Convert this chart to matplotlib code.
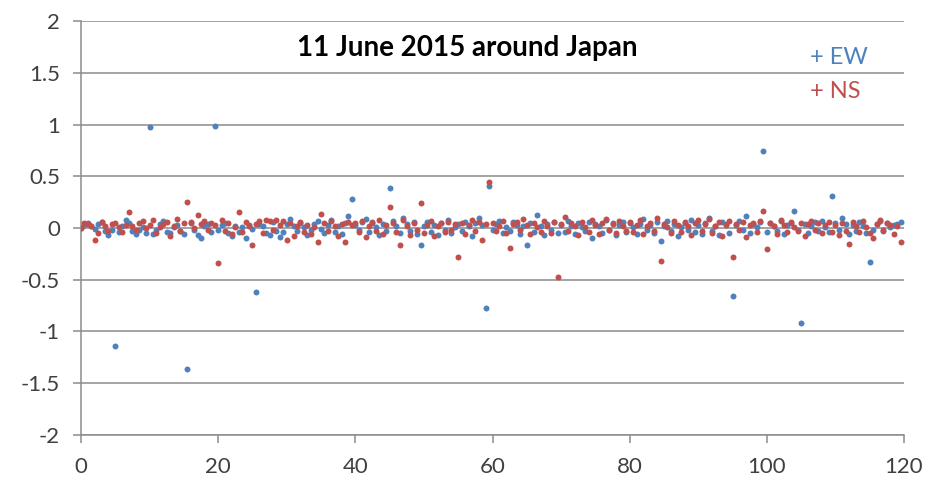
"""Scatter of EW / NS residuals over 120 hours, 11 June 2015 around Japan."""

import matplotlib

matplotlib.use("Agg")
import matplotlib.pyplot as plt
import numpy as np

# hourly index sampled every half hour
HOURS = np.arange(0, 120, 0.5)

EW = [
    0.00, 0.03, 0.05, 0.02, -0.01, 0.04, 0.06, -0.03, -0.07, -0.02,
    -1.14, -0.04, 0.02, 0.08, 0.05, -0.03, -0.06, -0.02, 0.01, -0.05,
    0.98, -0.06, -0.02, 0.04, 0.07, -0.04, -0.05, 0.01, 0.03, -0.03,
    -0.06, -1.36, 0.05, -0.02, -0.07, -0.10, 0.02, 0.04, -0.04, 0.99,
    -0.02, 0.03, 0.05, -0.05, -0.08, 0.02, -0.04, 0.01, -0.10, 0.03,
    -0.01, -0.62, 0.04, 0.02, -0.05, -0.07, 0.06, -0.03, -0.09, -0.04,
    0.04, 0.09, 0.02, -0.03, 0.05, 0.01, -0.07, -0.02, 0.04, 0.07,
    -0.01, -0.05, 0.03, 0.08, -0.04, 0.02, -0.06, 0.05, 0.12, 0.28,
    0.03, -0.02, 0.06, 0.09, -0.04, 0.05, 0.01, -0.07, 0.04, -0.03,
    0.39, 0.07, 0.02, -0.05, 0.10, 0.04, -0.03, 0.06, -0.06, -0.16,
    0.02, 0.06, -0.04, 0.03, -0.07, 0.05, -0.02, 0.08, -0.05, 0.01,
    0.04, -0.03, 0.06, 0.02, -0.08, 0.05, 0.10, 0.03, -0.77, 0.41,
    -0.02, 0.04, 0.07, -0.05, 0.01, -0.03, 0.06, 0.03, -0.06, 0.02,
    -0.16, 0.05, -0.04, 0.13, 0.02, -0.07, 0.04, -0.02, 0.06, -0.05,
    0.03, -0.04, 0.07, 0.02, -0.06, 0.05, 0.01, -0.03, 0.06, -0.10,
    0.04, 0.02, -0.05, 0.08, -0.02, 0.05, -0.07, 0.03, 0.06, -0.04,
    0.05, 0.01, -0.06, 0.04, 0.09, -0.02, 0.03, -0.05, 0.06, -0.13,
    0.02, 0.07, -0.03, 0.04, -0.08, 0.01, 0.05, -0.02, 0.08, -0.04,
    0.03, -0.06, 0.05, 0.10, -0.03, 0.02, -0.07, 0.06, 0.04, -0.05,
    -0.66, 0.03, 0.07, -0.02, 0.12, -0.05, 0.04, 0.01, 0.06, 0.74,
    -0.04, 0.05, 0.02, -0.03, 0.07, -0.06, 0.03, 0.05, 0.16, -0.02,
    -0.92, 0.04, -0.05, 0.02, 0.06, -0.03, 0.07, 0.01, -0.04, 0.31,
    0.05, -0.02, 0.10, 0.04, -0.06, 0.03, -0.03, 0.06, 0.02, -0.05,
    -0.33, -0.02, 0.04, 0.07, -0.03, 0.05, 0.01, 0.03, 0.04, 0.06,
]

NS = [
    0.00, 0.05, 0.04, 0.02, -0.12, -0.05, 0.06, 0.02, -0.03, 0.04,
    0.05, 0.01, -0.04, 0.03, 0.15, 0.02, -0.02, 0.05, 0.07, 0.00,
    0.03, 0.08, -0.05, 0.01, 0.04, 0.06, -0.08, 0.02, 0.09, -0.03,
    0.05, 0.25, 0.06, 0.00, 0.13, 0.04, 0.07, -0.02, 0.05, 0.03,
    -0.34, 0.08, -0.03, 0.05, -0.06, 0.01, 0.15, -0.04, 0.06, 0.02,
    -0.16, 0.04, 0.07, -0.05, 0.08, 0.07, -0.02, 0.08, 0.03, 0.07,
    -0.12, 0.05, -0.08, 0.02, 0.06, -0.04, 0.03, -0.06, 0.01, -0.14,
    0.14, 0.05, -0.03, 0.07, 0.02, -0.08, 0.04, -0.14, 0.06, 0.03,
    0.05, -0.04, 0.07, -0.09, 0.02, 0.06, -0.03, 0.08, -0.06, 0.03,
    0.20, 0.05, -0.04, -0.16, 0.08, 0.02, -0.07, 0.05, -0.02, 0.24,
    -0.05, 0.03, 0.07, -0.08, 0.02, 0.05, -0.04, 0.06, -0.02, 0.04,
    -0.28, 0.05, -0.06, 0.03, 0.08, -0.03, 0.06, -0.12, 0.04, 0.44,
    0.05, -0.03, 0.02, 0.07, -0.05, -0.19, 0.04, 0.06, -0.02, 0.09,
    0.03, -0.06, 0.05, 0.01, -0.04, 0.07, 0.02, -0.05, 0.06, -0.47,
    0.04, 0.11, -0.03, 0.05, 0.02, -0.07, 0.06, 0.01, -0.04, 0.08,
    0.03, -0.06, 0.05, 0.09, -0.02, 0.04, -0.05, 0.07, 0.02, -0.03,
    0.06, -0.04, 0.03, 0.08, -0.06, 0.02, 0.05, -0.03, 0.10, -0.32,
    0.04, 0.01, -0.05, 0.07, 0.03, -0.04, 0.06, 0.02, -0.07, 0.05,
    0.08, -0.03, 0.04, 0.09, -0.05, 0.02, 0.06, -0.08, 0.03, 0.07,
    -0.28, 0.04, -0.02, 0.06, -0.09, 0.03, 0.05, -0.04, 0.07, 0.16,
    -0.20, 0.05, 0.02, -0.06, 0.08, 0.03, -0.04, 0.06, 0.01, -0.03,
    0.05, -0.08, 0.04, 0.07, -0.02, 0.05, -0.05, 0.03, 0.06, -0.04,
    0.03, -0.07, 0.05, -0.03, -0.15, 0.06, 0.02, -0.04, 0.07, 0.01,
    -0.05, -0.10, 0.04, 0.08, -0.02, 0.05, 0.03, -0.06, 0.02, -0.14,
]

X_TICKS = [0, 20, 40, 60, 80, 100, 120]
Y_TICKS = [-2, -1.5, -1, -0.5, 0, 0.5, 1, 1.5, 2]
Y_LABELS = ["-2", "-1.5", "-1", "-0.5", "0", "0.5", "1", "1.5", "2"]

BLUE = "#4f81bd"
RED = "#c0504d"
GRID = "#8c8c8c"

plt.rcParams["font.family"] = ["Lato", "DejaVu Sans"]

fig = plt.figure(figsize=(9.4, 4.8), dpi=100)
ax = fig.add_axes([0.0862, 0.094, 0.8755, 0.862])

ax.plot(HOURS, EW, "o", color=BLUE, markersize=4.3, markeredgewidth=0, zorder=3)
ax.plot(HOURS, NS, "o", color=RED, markersize=4.3, markeredgewidth=0, zorder=4)

ax.set_xlim(0, 120)
ax.set_ylim(-2, 2)
ax.set_xticks(X_TICKS)
ax.set_yticks(Y_TICKS)
ax.set_yticklabels(Y_LABELS)

ax.yaxis.grid(True, color=GRID, linewidth=1.1)
ax.set_axisbelow(True)
for side in ("top", "right"):
    ax.spines[side].set_visible(False)
for side in ("left", "bottom"):
    ax.spines[side].set_color(GRID)
    ax.spines[side].set_linewidth(1.1)

ax.tick_params(axis="both", colors=GRID, length=6, width=1.1, labelsize=16,
               labelcolor="#404040")
ax.tick_params(axis="y", pad=9)
ax.tick_params(axis="x", pad=10)

ax.text(0.469, 0.935, "11 June 2015 around Japan", transform=ax.transAxes,
        ha="center", va="center", fontsize=20, fontweight="bold", color="black")

fig.text(0.862, 0.881, "+ EW", color=BLUE, fontsize=17, ha="left", va="center")
fig.text(0.862, 0.810, "+ NS", color=RED, fontsize=17, ha="left", va="center")

fig.savefig("out.png", dpi=100)
